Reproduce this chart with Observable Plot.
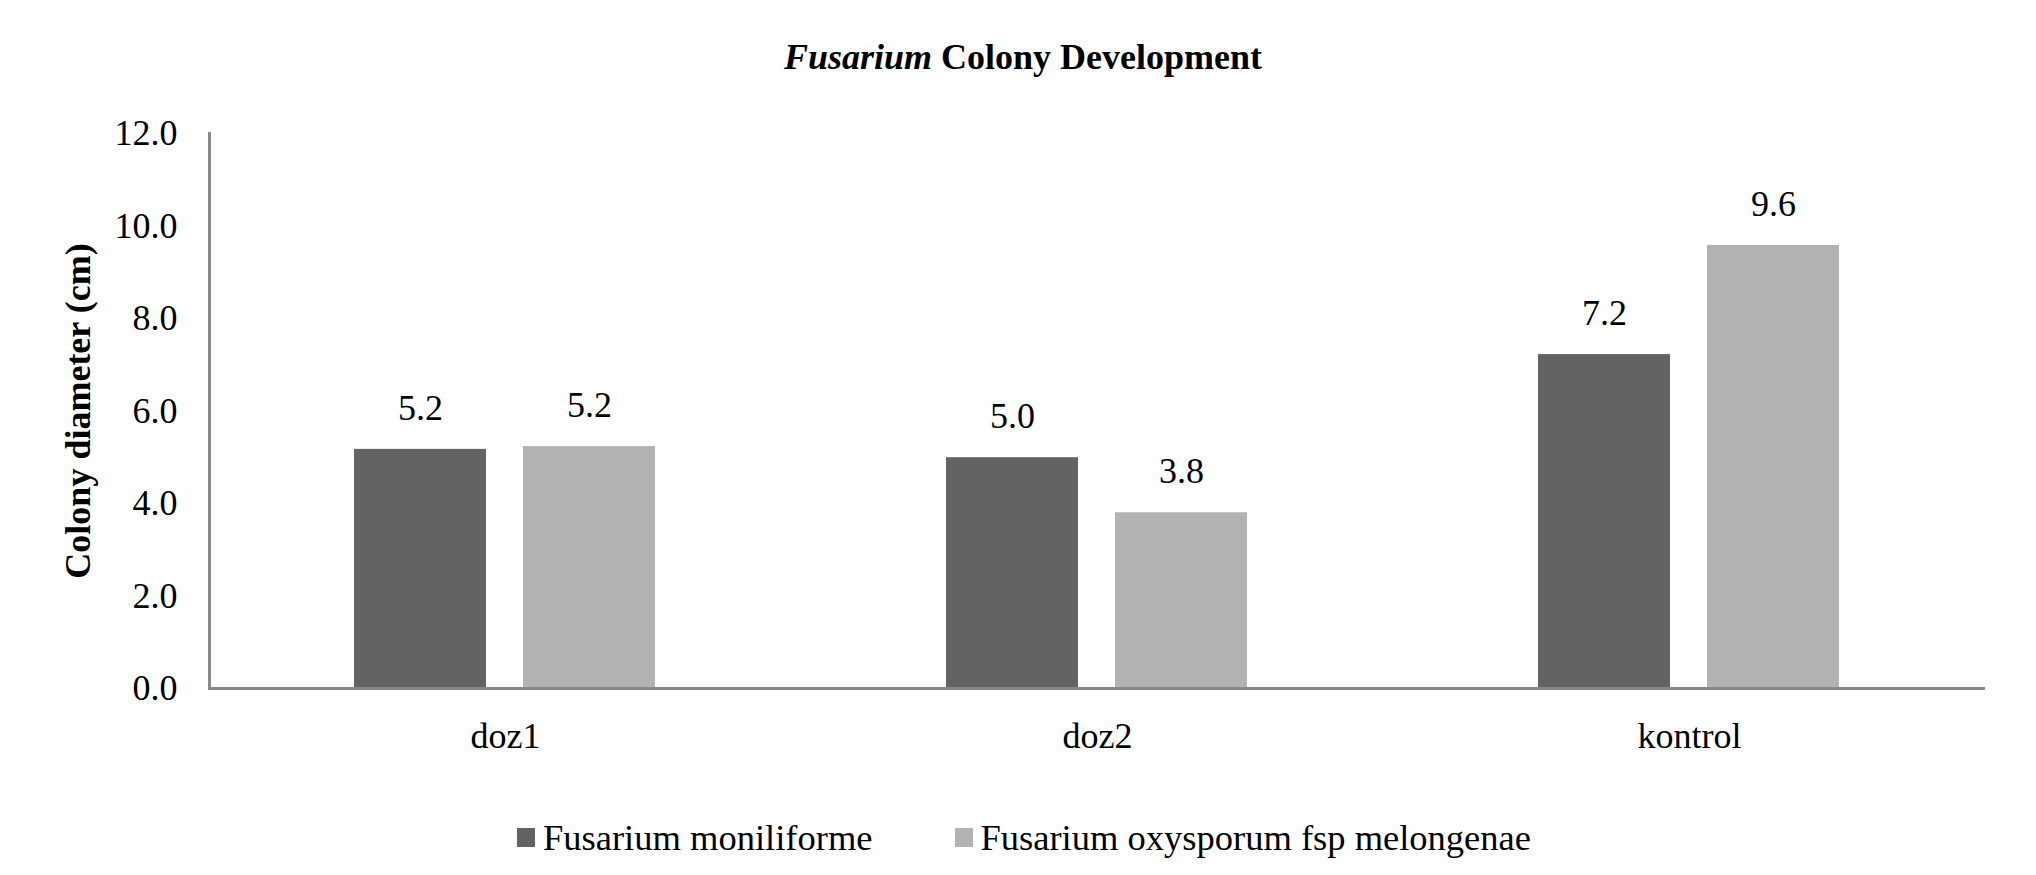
<!DOCTYPE html>
<html>
<head>
<meta charset="utf-8">
<script src="https://cdn.jsdelivr.net/npm/d3@7"></script>
<script src="https://cdn.jsdelivr.net/npm/@observablehq/plot@0.6"></script>
<style>
  html, body { margin: 0; padding: 0; background: #fff; }
  body { width: 2036px; font-family: "Liberation Serif", "Times New Roman", serif; color: #000; }
  #title { box-sizing: border-box; height: 100px; padding-top: 39px; line-height: 36px; font-size: 36px; font-weight: bold; text-align: center; padding-left: 10px; }
  #chart svg { display: block; }
  #chart svg, #chart svg text { font-family: "Liberation Serif", "Times New Roman", serif !important; }
  #legend { box-sizing: border-box; height: 95px; padding-top: 20px; display: flex; justify-content: center; align-items: center; line-height: 36px; font-size: 36.5px; padding-left: 12px; font-family: "Liberation Serif", "Times New Roman", serif; }
  .item { display: flex; align-items: center; }
  .sw { width: 18px; height: 19px; margin-right: 8px; }
</style>
</head>
<body>
<div id="title"><i>Fusarium</i> Colony Development</div>
<div id="chart"></div>
<div id="legend"></div>
<script>
const categories = ["doz1", "doz2", "kontrol"];
const seriesNames = ["Fusarium moniliforme", "Fusarium oxysporum fsp melongenae"];
const moniliforme = [5.17, 4.99, 7.22];
const oxysporum = [5.23, 3.80, 9.58];
const yTicks = [0, 2, 4, 6, 8, 10, 12];
const colors = ["#636363", "#b2b2b2"];
const yLabel = "Colony diameter (cm)";

const data = categories.flatMap((c, i) => [
  {cat: c, series: seriesNames[0], value: moniliforme[i]},
  {cat: c, series: seriesNames[1], value: oxysporum[i]}
]);

const chart = Plot.plot({
  width: 2036,
  height: 680,
  marginTop: 33,
  marginBottom: 92,
  marginLeft: 208,
  marginRight: 51,
  style: {fontFamily: "Liberation Serif, Times New Roman, serif", fontSize: "36px", color: "#000", background: "#fff"},
  fx: {domain: categories, padding: 0, label: null},
  x: {domain: seriesNames, paddingInner: 0.2176, paddingOuter: 0.86, axis: null},
  y: {domain: [0, 12], ticks: yTicks},
  color: {domain: seriesNames, range: colors},
  marks: [
    Plot.barY(data, {fx: "cat", x: "series", y: "value", fill: "series"}),
    Plot.text(data, {fx: "cat", x: "series", y: "value", text: d => d.value.toFixed(1), dy: -41, fontSize: 36, fill: "#000"}),
    Plot.ruleY([0], {stroke: "#898989", strokeWidth: 3}),
    Plot.frame({anchor: "left", facetAnchor: "left", stroke: "#898989", strokeWidth: 3}),
    Plot.axisY({ticks: yTicks, tickFormat: d => d.toFixed(1), tickSize: 0, tickPadding: 32, fontSize: 36, label: yLabel, labelArrow: "none", labelAnchor: "center", labelOffset: 145}),
    Plot.axisFx({anchor: "bottom", tickSize: 0, tickPadding: 34, label: null, fontSize: 36})
  ]
});
document.getElementById("chart").appendChild(chart);
const lab = chart.querySelector('[aria-label="y-axis label"]');
if (lab) {
  lab.style.fontWeight = "bold";
  lab.querySelectorAll("text, tspan").forEach(t => {
    if (t.childNodes.length === 1 && t.firstChild.nodeType === 3) {
      t.textContent = t.textContent.replace(/\s*[↑↓]\s*/g, "");
    }
  });
}

const legend = document.getElementById("legend");
seriesNames.forEach((s, i) => {
  const item = document.createElement("div");
  item.className = "item";
  if (i > 0) item.style.marginLeft = "82px";
  const sw = document.createElement("div");
  sw.className = "sw";
  sw.style.background = colors[i];
  const t = document.createElement("span");
  t.textContent = s;
  item.appendChild(sw);
  item.appendChild(t);
  legend.appendChild(item);
});
</script>
</body>
</html>
